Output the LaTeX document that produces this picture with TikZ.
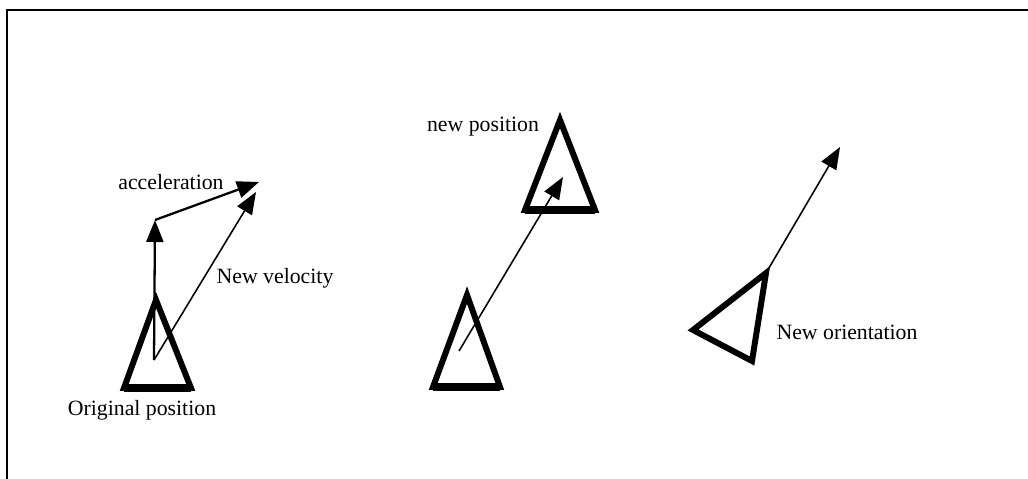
\documentclass[tikz,border=0pt]{standalone}
\usepackage{fontspec}
\setmainfont{Liberation Serif}
\usetikzlibrary{arrows.meta}
\tikzset{
  body/.style={line width=3.4pt, line join=miter},
  base/.style={line width=4.6pt},
  vec/.style={-{Triangle[length=0.44cm,width=0.34cm]}, line width=0.9pt},
  lbl/.style={font=\fontsize{12.4}{15}\selectfont, inner sep=0pt}
}
\begin{document}
\begin{tikzpicture}[x=0.02cm,y=-0.02cm]
    \useasboundingbox (0,0) rectangle (1028,479);
    \draw[line width=1.1pt] (7,479) -- (7,10) -- (1028,10);
    % original position
    \coordinate (oA) at (156,300); \coordinate (oL) at (124,388); \coordinate (oR) at (191,388);
    \draw[body] (oA) -- (oL) -- (oR) -- cycle;
    \draw[base] (oL) -- (oR);
    \coordinate (oC) at (154,360);
    \coordinate (velTip) at (155,220);
    \coordinate (accTip) at (259,182);
    \coordinate (newvTip) at (256,192);
    \draw[vec, line width=1.3pt] (oC) -- (velTip);
    \draw[vec, line width=1.3pt] (velTip) -- (accTip);
    \draw[vec] (oC) -- (newvTip);
    \node[lbl] (acc) at (171,182) {acceleration};
    \node[lbl] (newv) at (275,278) {New velocity};
    \node[lbl] (orig) at (142,410) {Original position};
    % new position
    \coordinate (pA) at (467,295); \coordinate (pL) at (433,387); \coordinate (pR) at (500,387);
    \draw[body] (pA) -- (pL) -- (pR) -- cycle;
    \draw[base] (pL) -- (pR);
    \coordinate (qA) at (560,120); \coordinate (qL) at (525,210); \coordinate (qR) at (595,210);
    \draw[body] (qA) -- (qL) -- (qR) -- cycle;
    \draw[base] (qL) -- (qR);
    \coordinate (pC) at (459,351);
    \coordinate (qTip) at (563,177);
    \draw[vec] (pC) -- (qTip);
    \node[lbl] (newp) at (483,127) {new position};
    % new orientation
    \coordinate (rA) at (766,273); \coordinate (rL) at (693,330); \coordinate (rB) at (752,361);
    \draw[body] (rA) -- (rL) -- (rB) -- cycle;
    \coordinate (rTip) at (840,147);
    \draw[vec] (rA) -- (rTip);
    \node[lbl] (newo) at (847,332) {New orientation};
\end{tikzpicture}
\end{document}
